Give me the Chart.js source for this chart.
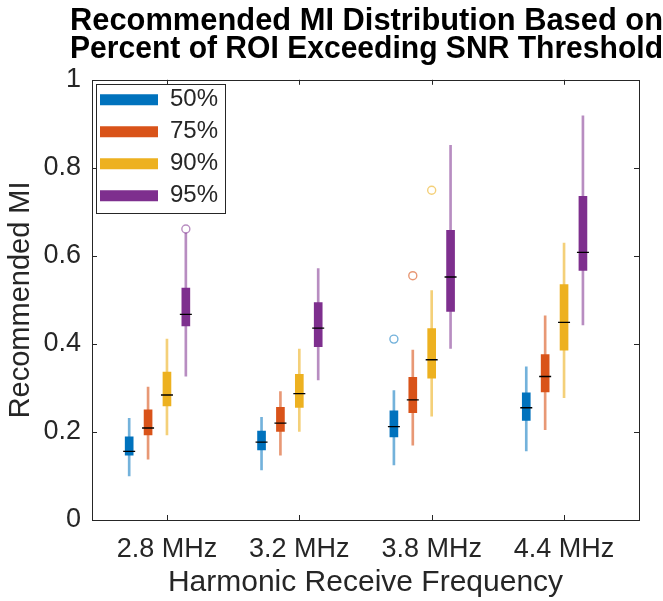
<!DOCTYPE html>
<html>
<head>
<meta charset="utf-8">
<script src="https://cdn.jsdelivr.net/npm/chart.js@4.4.0/dist/chart.umd.min.js"></script>
<style>
  html, body { margin: 0; padding: 0; background: #fff; }
</style>
</head>
<body>
<canvas id="chartMI" width="663" height="601"></canvas>
<script>
// categories and series
const freqLabels = ['2.8 MHz', '3.2 MHz', '3.8 MHz', '4.4 MHz'];
const pctLabels = ['50%', '75%', '90%', '95%'];

// box stats, one row per series (50, 75, 90, 95 %), one column per frequency
const whiskerLo = [
  [0.100, 0.114, 0.125, 0.157],
  [0.138, 0.147, 0.170, 0.205],
  [0.193, 0.201, 0.236, 0.278],
  [0.327, 0.318, 0.390, 0.443]
];
const q1 = [
  [0.147, 0.159, 0.189, 0.226],
  [0.193, 0.201, 0.244, 0.291],
  [0.259, 0.256, 0.322, 0.386],
  [0.441, 0.394, 0.474, 0.567]
];
const median = [
  [0.156, 0.177, 0.212, 0.255],
  [0.209, 0.220, 0.273, 0.326],
  [0.284, 0.287, 0.364, 0.449],
  [0.467, 0.436, 0.552, 0.608]
];
const q3 = [
  [0.189, 0.202, 0.248, 0.289],
  [0.250, 0.256, 0.324, 0.376],
  [0.336, 0.331, 0.435, 0.535],
  [0.527, 0.494, 0.658, 0.735]
];
const whiskerHi = [
  [0.231, 0.233, 0.294, 0.348],
  [0.302, 0.292, 0.386, 0.464],
  [0.411, 0.388, 0.521, 0.629],
  [0.652, 0.571, 0.851, 0.918]
];
const outliers = [
  [null, null, 0.411, null],
  [null, null, 0.555, null],
  [null, null, 0.749, null],
  [0.661, null, null, null]
];
const yTicks = [0, 0.2, 0.4, 0.6, 0.8, 1];

const pctColors = ['rgb(0,114,189)', 'rgb(217,83,25)', 'rgb(237,177,32)', 'rgb(126,47,142)'];
const lightColors = ['rgba(0,114,189,0.55)', 'rgba(217,83,25,0.6)', 'rgba(237,177,32,0.6)', 'rgba(126,47,142,0.55)'];
const boxStep = 0.1427;
const axisGray = '#262626';
const fontFam = '"Liberation Sans", Arial, Helvetica, sans-serif';

function buildDatasets() {
  let ds = [];
  for (let s = 0; s < pctLabels.length; s++) {
    let pos = freqLabels.map((f, g) => g + 1 + (s - 2) * boxStep);
    ds.push({
      type: 'bar', role: 'box', label: pctLabels[s],
      data: pos.map((x, g) => ({x: x, y: [q1[s][g], q3[s][g]]})),
      backgroundColor: pctColors[s], borderWidth: 0,
      barThickness: 8, grouped: false, order: 1
    });
    ds.push({
      type: 'bar', role: 'whisker', label: pctLabels[s] + ' whisker',
      data: pos.map((x, g) => ({x: x, y: [whiskerLo[s][g], whiskerHi[s][g]]})),
      backgroundColor: lightColors[s], borderWidth: 0,
      barThickness: 2, grouped: false, order: 2
    });
    ds.push({
      type: 'scatter', role: 'median', label: pctLabels[s] + ' median',
      data: pos.map((x, g) => ({x: x, y: median[s][g]})),
      pointStyle: 'line', pointRadius: 6, borderColor: '#000', borderWidth: 1.3, order: 0
    });
    let out = [];
    outliers[s].forEach((v, g) => { if (v !== null) out.push({x: pos[g], y: v}); });
    ds.push({
      type: 'scatter', role: 'outlier', label: pctLabels[s] + ' outlier',
      data: out, pointStyle: 'circle', pointRadius: 4,
      borderColor: lightColors[s], backgroundColor: 'rgba(0,0,0,0)', borderWidth: 1.4, order: 0
    });
  }
  return ds;
}

// frame with inward ticks + legend border, like matlab axes
const axesFrame = {
  id: 'axesFrame',
  beforeDraw(chart) {
    const lg = chart.legend, a = chart.chartArea;
    //la leyenda vertical queda arriba del todo, se baja al area del grafico
    if (lg && lg.top !== a.top) {
      let shift = a.top - lg.top;
      lg.top += shift;
      lg.bottom += shift;
      lg.legendHitBoxes.forEach(b => { b.top += shift; });
    }
    //titulo centrado sobre los ejes, puede pasar del borde derecho
    const tb = chart.titleBlock;
    if (tb) {
      tb.left = a.left - 22;
      tb.right = chart.width;
      tb.width = tb.right - tb.left;
    }
  },
  afterDraw(chart) {
    const {ctx, chartArea: a, scales: {x, y}} = chart;
    ctx.save();
    ctx.strokeStyle = axisGray;
    ctx.lineWidth = 1;
    ctx.strokeRect(Math.round(a.left) + 0.5, Math.round(a.top) + 0.5, Math.round(a.width), Math.round(a.height));
    ctx.beginPath();
    freqLabels.forEach((f, i) => {
      let px = Math.round(x.getPixelForValue(i + 1)) + 0.5;
      ctx.moveTo(px, a.bottom); ctx.lineTo(px, a.bottom - 5);
      ctx.moveTo(px, a.top); ctx.lineTo(px, a.top + 5);
    });
    yTicks.forEach(v => {
      let py = Math.round(y.getPixelForValue(v)) + 0.5;
      ctx.moveTo(a.left, py); ctx.lineTo(a.left + 5, py);
      ctx.moveTo(a.right, py); ctx.lineTo(a.right - 5, py);
    });
    ctx.stroke();

    //borde de la leyenda
    let boxes = chart.legend.legendHitBoxes;
    if (boxes && boxes.length) {
      let right = 0, bottom = 0;
      boxes.forEach(b => {
        right = Math.max(right, b.left + b.width);
        bottom = Math.max(bottom, b.top + b.height);
      });
      let lx = Math.round(a.left + 4) + 0.5, ly = Math.round(a.top + 4) + 0.5;
      ctx.strokeRect(lx, ly, Math.round(right + 7 - lx), Math.round(bottom + 6 - ly));
    }
    ctx.restore();
  }
};

const configMI = {
  type: 'bar',
  data: { datasets: buildDatasets() },
  options: {
    responsive: false,
    animation: false,
    events: [],
    layout: { padding: { left: 0, right: 24, top: 0, bottom: 0 } },
    plugins: {
      title: {
        display: true,
        text: ['Recommended MI Distribution Based on', 'Percent of ROI Exceeding SNR Threshold'],
        color: '#000',
        font: { family: fontFam, size: 31, weight: 'bold', lineHeight: 0.9 },
        padding: { top: 8, bottom: 16 }
      },
      legend: {
        position: 'chartArea',
        align: 'start',
        labels: {
          filter: (item, data) => data.datasets[item.datasetIndex].role === 'box',
          boxWidth: 58,
          boxHeight: 11,
          padding: 8,
          color: axisGray,
          font: { family: fontFam, size: 24 }
        }
      },
      tooltip: { enabled: false }
    },
    scales: {
      x: {
        type: 'linear',
        min: 0.4337,
        max: 4.5663,
        offset: false,
        grid: { display: false, drawTicks: false, offset: false },
        border: { display: false },
        afterBuildTicks: (scale) => { scale.ticks = freqLabels.map((f, i) => ({value: i + 1})); },
        afterFit: (scale) => { scale.height = 81; },
        ticks: {
          autoSkip: false, maxRotation: 0, padding: 13,
          color: axisGray,
          font: { family: fontFam, size: 27 },
          callback: (v) => freqLabels[Math.round(v) - 1]
        },
        title: {
          display: true, text: 'Harmonic Receive Frequency', color: axisGray,
          font: { family: fontFam, size: 30 }, padding: { top: 0, bottom: 0 }
        }
      },
      y: {
        type: 'linear',
        min: 0, max: 1,
        grid: { display: false, drawTicks: false },
        border: { display: false },
        afterBuildTicks: (scale) => { scale.ticks = yTicks.map(v => ({value: v})); },
        afterFit: (scale) => { scale.width = 92; },
        ticks: {
          padding: 11, color: axisGray,
          font: { family: fontFam, size: 27 },
          callback: (v) => String(+v.toFixed(1))
        },
        title: {
          display: true, text: 'Recommended MI', color: axisGray,
          font: { family: fontFam, size: 29 }, padding: { top: 4, bottom: 0 }
        }
      }
    }
  },
  plugins: [axesFrame]
};

document.addEventListener('DOMContentLoaded', function() {
  const canvasMI = document.getElementById('chartMI');
  new Chart(canvasMI, configMI);
});
</script>
</body>
</html>
